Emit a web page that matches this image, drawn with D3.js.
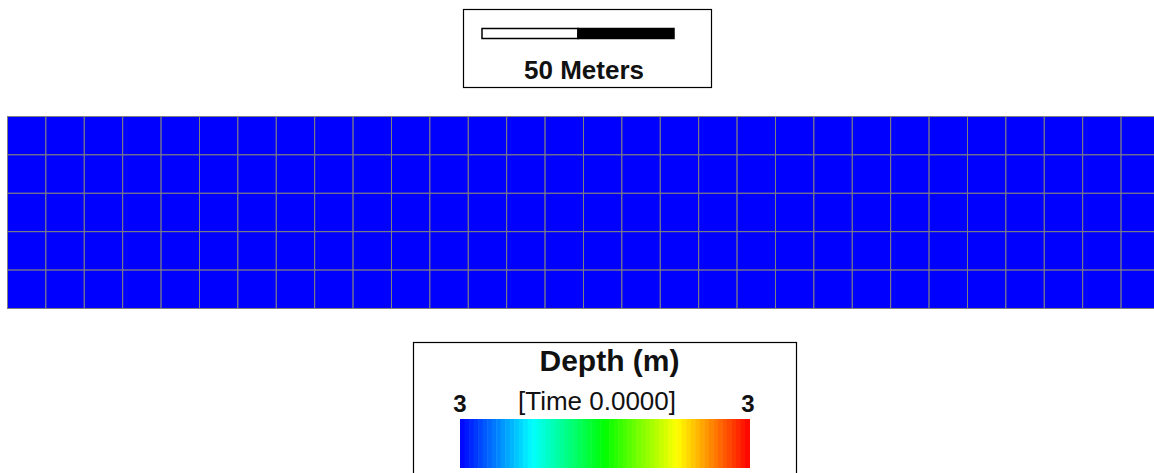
<!DOCTYPE html>
<html>
<head>
<meta charset="utf-8">
<script src="https://cdn.jsdelivr.net/npm/d3@7"></script>
<style>
  html, body { margin: 0; padding: 0; background: #fff; }
  svg { display: block; }
  text { font-family: "Liberation Sans", Arial, sans-serif; }
</style>
</head>
<body>
<svg id="chart" width="1154" height="473"></svg>
<script>
// ---- data ----
const columnEdgesM = [0, 10, 20, 30, 40, 50, 60, 70, 80, 90, 100, 110, 120, 130, 140, 150,
  160, 170, 180, 190, 200, 210, 220, 230, 240, 250, 260, 270, 280, 290, 300];
const rowEdgesM = [0, 10, 20, 30, 40, 50];
const depthRows = [
  [3,3,3,3,3,3,3,3,3,3,3,3,3,3,3,3,3,3,3,3,3,3,3,3,3,3,3,3,3,3],
  [3,3,3,3,3,3,3,3,3,3,3,3,3,3,3,3,3,3,3,3,3,3,3,3,3,3,3,3,3,3],
  [3,3,3,3,3,3,3,3,3,3,3,3,3,3,3,3,3,3,3,3,3,3,3,3,3,3,3,3,3,3],
  [3,3,3,3,3,3,3,3,3,3,3,3,3,3,3,3,3,3,3,3,3,3,3,3,3,3,3,3,3,3],
  [3,3,3,3,3,3,3,3,3,3,3,3,3,3,3,3,3,3,3,3,3,3,3,3,3,3,3,3,3,3]
];
const depthMin = 3;
const depthMax = 3;
const colorStops = ["#0000ff", "#00ffff", "#00ff00", "#ffff00", "#ff0000"];
const scaleBarMeters = 50;
const scaleBarLabel = "50 Meters";
const legendTitle = "Depth (m)";
const legendSubtitle = "[Time 0.0000]";
const legendMinLabel = "3";
const legendMaxLabel = "3";

// ---- drawing ----
const svg = d3.select("#chart");
const x = d3.scaleLinear().domain([0, 300]).range([7.5, 1159.5]);
const y = d3.scaleLinear().domain([0, 50]).range([116.5, 308.5]);

const jet = d3.scaleLinear()
  .domain(d3.range(colorStops.length).map(i => i / (colorStops.length - 1)))
  .range(colorStops)
  .interpolate(d3.interpolateRgb);
const norm = v => depthMax === depthMin ? 0 : (v - depthMin) / (depthMax - depthMin);

// mesh cells
const cells = [];
depthRows.forEach((row, r) => row.forEach((v, c) => cells.push({r, c, v})));
svg.append("g").selectAll("rect").data(cells).join("rect")
  .attr("x", d => x(columnEdgesM[d.c]))
  .attr("y", d => y(rowEdgesM[d.r]))
  .attr("width", d => x(columnEdgesM[d.c + 1]) - x(columnEdgesM[d.c]))
  .attr("height", d => y(rowEdgesM[d.r + 1]) - y(rowEdgesM[d.r]))
  .attr("fill", d => jet(norm(d.v)))
  .attr("stroke", "#808080")
  .attr("stroke-width", 1);

// scale bar box
const sb = svg.append("g");
sb.append("rect").attr("x", 463.5).attr("y", 9.5).attr("width", 248).attr("height", 78)
  .attr("fill", "#fff").attr("stroke", "#000").attr("stroke-width", 1.2);
const barX0 = 482, barY = 28.5, barH = 10;
const barLen = x(scaleBarMeters) - x(0);
sb.append("rect").attr("x", barX0).attr("y", barY).attr("width", barLen / 2).attr("height", barH)
  .attr("fill", "#fff").attr("stroke", "#000").attr("stroke-width", 1.5);
sb.append("rect").attr("x", barX0 + barLen / 2).attr("y", barY).attr("width", barLen / 2).attr("height", barH)
  .attr("fill", "#000").attr("stroke", "#000").attr("stroke-width", 1.5);
sb.append("text").attr("x", 584).attr("y", 79).attr("text-anchor", "middle")
  .attr("font-size", 26).attr("font-weight", "bold").attr("fill", "#111").text(scaleBarLabel);

// legend box
const lg = svg.append("g");
lg.append("rect").attr("x", 413.5).attr("y", 342.5).attr("width", 383).attr("height", 150)
  .attr("fill", "#fff").attr("stroke", "#000").attr("stroke-width", 1.2);
lg.append("text").attr("x", 609.5).attr("y", 371).attr("text-anchor", "middle")
  .attr("font-size", 30).attr("font-weight", "bold").attr("fill", "#111").text(legendTitle);
lg.append("text").attr("x", 597).attr("y", 410).attr("text-anchor", "middle")
  .attr("font-size", 26).attr("fill", "#111").text(legendSubtitle);
lg.append("text").attr("x", 460).attr("y", 411.5).attr("text-anchor", "middle")
  .attr("font-size", 24).attr("font-weight", "bold").attr("fill", "#111").text(legendMinLabel);
lg.append("text").attr("x", 748).attr("y", 411.5).attr("text-anchor", "middle")
  .attr("font-size", 24).attr("font-weight", "bold").attr("fill", "#111").text(legendMaxLabel);

const cb = d3.scaleLinear().domain([0, 1]).range([460, 749.5]);
const nSteps = 64;
lg.append("g").selectAll("rect").data(d3.range(nSteps)).join("rect")
  .attr("x", i => cb(i / nSteps))
  .attr("y", 419)
  .attr("width", i => cb((i + 1) / nSteps) - cb(i / nSteps) + 0.5)
  .attr("height", 49)
  .attr("fill", i => jet((i + 0.5) / nSteps));
</script>
</body>
</html>
